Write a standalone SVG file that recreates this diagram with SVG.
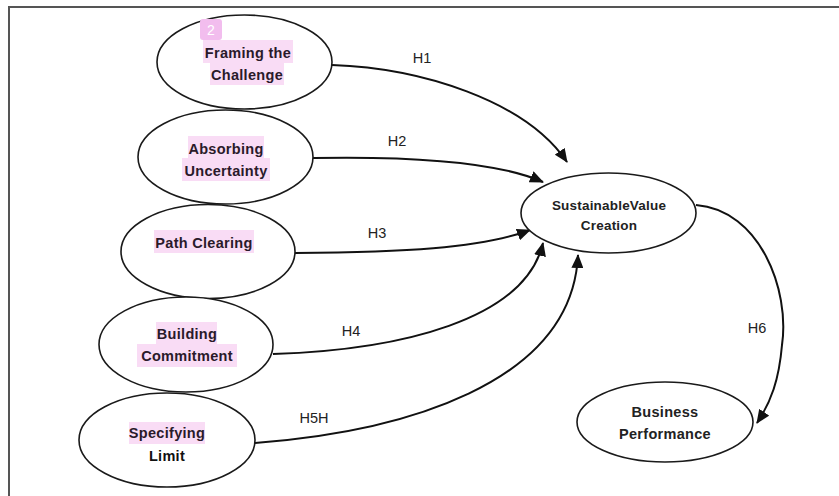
<svg xmlns="http://www.w3.org/2000/svg" width="839" height="496" viewBox="0 0 839 496">
<defs>
<style>
.n{fill:#fff;stroke:#1a1a1a;stroke-width:1.6}
.t{font-family:"Liberation Sans",Arial,sans-serif;font-size:14.5px;font-weight:bold;fill:#2a1a2a;text-anchor:middle;letter-spacing:0.3px}
.hl{fill:#f9dcf5}
.c{fill:none;stroke:#111;stroke-width:2}
.l{font-family:"Liberation Sans",Arial,sans-serif;font-size:14.5px;fill:#222;text-anchor:middle}
</style>
<marker id="ah" markerUnits="userSpaceOnUse" markerWidth="14" markerHeight="12" refX="13" refY="6" orient="auto">
<path d="M0,0 L14,6 L0,12 z" fill="#111"/>
</marker>
</defs>
<rect width="839" height="496" fill="#fff"/>
<path d="M9,496 V7 H839" fill="none" stroke="#555" stroke-width="2"/>

<g id="connectors">
<path class="c" marker-end="url(#ah)" d="M332,65 C420,68 525,100 567,162"/>
<path class="c" marker-end="url(#ah)" d="M313,158 C420,156 500,163 543,182"/>
<path class="c" marker-end="url(#ah)" d="M295,253 C400,252 480,249 530,230"/>
<path class="c" marker-end="url(#ah)" d="M273,354 C400,350 525,320 543,243"/>
<path class="c" marker-end="url(#ah)" d="M255,443 C400,432 572,385 578,255"/>
<path class="c" marker-end="url(#ah)" d="M696,205 C760,210 790,290 782,345 C779,380 771,402 757,423"/>
<text class="l" x="422" y="63">H1</text>
<text class="l" x="397" y="146">H2</text>
<text class="l" x="377" y="238">H3</text>
<text class="l" x="351" y="336">H4</text>
<text class="l" x="314" y="423">H5H</text>
<text class="l" x="757" y="333">H6</text>
</g>

<g id="framing">
<ellipse class="n" cx="244.5" cy="62" rx="87.5" ry="47"/>
<rect x="200" y="19" width="22" height="21" rx="3" fill="#f2bdee"/>
<text x="211" y="35" font-family="Liberation Sans,Arial,sans-serif" font-size="14" fill="#fff" text-anchor="middle">2</text>
<rect class="hl" x="203" y="40" width="90" height="23"/>
<rect class="hl" x="210" y="63" width="74" height="22"/>
<text class="t" x="248" y="58">Framing the</text>
<text class="t" x="247" y="80">Challenge</text>
</g>

<g id="absorbing">
<ellipse class="n" cx="225.5" cy="157" rx="87.5" ry="47"/>
<rect class="hl" x="188" y="136" width="76" height="22"/>
<rect class="hl" x="182" y="158" width="88" height="23"/>
<text class="t" x="226" y="154">Absorbing</text>
<text class="t" x="226" y="176">Uncertainty</text>
</g>

<g id="path-clearing">
<ellipse class="n" cx="208" cy="251.5" rx="87" ry="47"/>
<rect class="hl" x="154" y="230" width="100" height="23"/>
<text class="t" x="204" y="248">Path Clearing</text>
</g>

<g id="building">
<ellipse class="n" cx="186" cy="344.5" rx="87" ry="47.5"/>
<rect class="hl" x="156" y="322" width="61" height="22"/>
<rect class="hl" x="137" y="344" width="100" height="23"/>
<text class="t" x="187" y="339">Building</text>
<text class="t" x="187" y="361">Commitment</text>
</g>

<g id="specifying">
<ellipse class="n" cx="167" cy="440" rx="88" ry="47"/>
<rect class="hl" x="129" y="422" width="76" height="22"/>
<text class="t" x="167" y="438">Specifying</text>
<text class="t" x="167" y="461" style="fill:#111">Limit</text>
</g>

<g id="sustainable">
<ellipse class="n" cx="608.5" cy="213" rx="87.5" ry="40"/>
<text class="t" x="609" y="210" style="fill:#222;font-size:13.5px;letter-spacing:0.2px">SustainableValue</text>
<text class="t" x="609" y="230" style="fill:#222;font-size:13.5px;letter-spacing:0.2px">Creation</text>
</g>

<g id="business">
<ellipse class="n" cx="665" cy="422" rx="88" ry="40"/>
<text class="t" x="665" y="417" style="fill:#222">Business</text>
<text class="t" x="665" y="439" style="fill:#222">Performance</text>
</g>
</svg>
